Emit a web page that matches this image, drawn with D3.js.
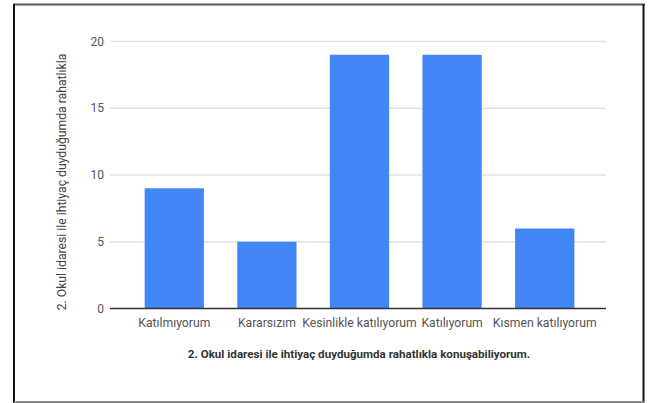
<!DOCTYPE html>
<html><head><meta charset="utf-8">
<script src="https://cdn.jsdelivr.net/npm/d3@7"></script>
<style>body{margin:0;background:#fff}svg{display:block}text{font-family:Roboto,"Noto Sans",sans-serif}</style>
</head><body>
<svg id="c" width="654" height="403"></svg>
<script>
const categories = ["Katılmıyorum","Kararsızım","Kesinlikle katılıyorum","Katılıyorum","Kısmen katılıyorum"];
const values = [9,5,19,19,6];
const yTicks = [0,5,10,15,20];
const xTitle = "2. Okul idaresi ile ihtiyaç duyduğumda rahatlıkla konuşabiliyorum.";
const yTitle = "2. Okul idaresi ile ihtiyaç duyduğumda rahatlıkla";

const svg = d3.select("#c");
// frame
svg.append("line").attr("x1",13).attr("x2",645).attr("y1",4.5).attr("y2",4.5).attr("stroke","#555").attr("stroke-width",2);
svg.append("line").attr("x1",14).attr("x2",14).attr("y1",4).attr("y2",403).attr("stroke","#111").attr("stroke-width",2);
svg.append("line").attr("x1",643.5).attr("x2",643.5).attr("y1",4).attr("y2",403).attr("stroke","#111").attr("stroke-width",2);
svg.append("line").attr("x1",14).attr("x2",644).attr("y1",402).attr("y2",402).attr("stroke","#888").attr("stroke-width",2);

const x = d3.scaleBand().domain(categories).range([128,591]).paddingInner(0.36).paddingOuter(0.18);
const y = d3.scaleLinear().domain([0,20]).range([308.5,41.5]);
const gl = 110, gr = 606;

// gridlines
svg.append("g").selectAll("line").data(yTicks.filter(d=>d>0)).join("line")
  .attr("x1",gl).attr("x2",gr).attr("y1",d=>y(d)).attr("y2",d=>y(d))
  .attr("stroke","#e0e0e0").attr("stroke-width",1.3);

// y tick labels
svg.append("g").selectAll("text").data(yTicks).join("text")
  .attr("x",104).attr("y",d=>y(d)).attr("dy","0.35em").attr("text-anchor","end")
  .attr("font-size",12).attr("fill","#555").text(d=>d);

// bars
svg.append("g").selectAll("rect").data(values).join("rect")
  .attr("x",(d,i)=>x(categories[i])).attr("width",x.bandwidth())
  .attr("y",d=>y(d)).attr("height",d=>y(0)-y(d))
  .attr("fill","#4285f4").attr("rx",1);

// baseline
svg.append("line").attr("x1",gl).attr("x2",gr).attr("y1",y(0)).attr("y2",y(0)).attr("stroke","#333").attr("stroke-width",1.3);

// x labels
svg.append("g").selectAll("text").data(categories).join("text")
  .attr("x",d=>x(d)+x.bandwidth()/2).attr("y",327).attr("text-anchor","middle")
  .attr("font-size",12.2).attr("fill","#555").text(d=>d);

// x title
svg.append("text").attr("x",359).attr("y",358).attr("text-anchor","middle")
  .attr("font-size",11.6).attr("font-weight","bold").attr("fill","#333").text(xTitle);

// y title
svg.append("text").attr("transform","translate(66,182) rotate(-90)").attr("text-anchor","middle")
  .attr("font-size",12.2).attr("fill","#444").text(yTitle);
</script>
</body></html>
